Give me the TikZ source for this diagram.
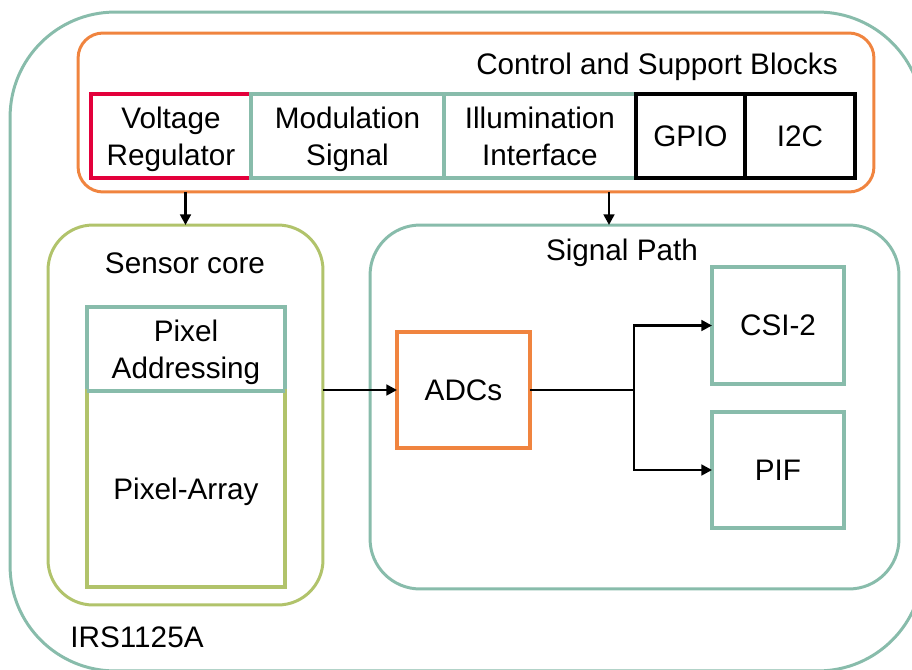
\documentclass[tikz,border=0pt]{standalone}
\usepackage{fontspec}
\setmainfont{Liberation Sans}
\usetikzlibrary{arrows.meta,positioning}
\definecolor{irsteal}{HTML}{88BCAB}
\definecolor{irsorange}{HTML}{F0843F}
\definecolor{irsgreen}{HTML}{B1C36B}
\definecolor{irsred}{HTML}{E3003B}
\newcommand{\blkfont}{\fontsize{16.9}{21}\selectfont}

\begin{document}
\begin{tikzpicture}[
    x=0.02cm, y=-0.02cm,
    every node/.style={font=\blkfont, text=black, align=center, text depth=0pt},
    frame/.style={draw=#1, line width=1.7pt, inner sep=0pt, outer sep=0pt},
    block/.style={draw=#1, line width=2pt, inner sep=0pt, outer sep=0pt,
                  minimum height=1.68cm},
    ttl/.style={inner sep=0pt},
    arr/.style={-{Triangle[length=6pt,width=6pt]}, black, line width=1.5pt},
  ]
  \useasboundingbox (0,0) rectangle (912,669);
  \clip (0,0) rectangle (912,669);

  % Chip outline
  \node[frame=irsteal, rounded corners=2.1cm, minimum width=18.26cm,
        minimum height=13.18cm] (chip) at (466.5,341.5) {};
  \node[ttl] (chipname) at (137,637) {IRS1125A};

  % Control and support blocks
  \node[frame=irsorange, rounded corners=0.5cm, minimum width=15.92cm,
        minimum height=3.18cm] (ctrl) at (476,112.5) {};
  \node[ttl] (ctrlname) at (657,64) {Control and Support Blocks};
  \node[block=irsred, minimum width=3.2cm] (vreg) at (171,136) {Voltage\\Regulator};
  \node[block=irsteal, minimum width=3.86cm, right=0pt of vreg] (mod) {Modulation\\Signal};
  \node[block=irsteal, minimum width=3.84cm, right=0pt of mod] (illum) {Illumination\\Interface};
  \node[block=black, minimum width=2.18cm, right=0pt of illum] (gpio) {GPIO};
  \node[block=black, minimum width=2.2cm, right=0pt of gpio] (itwoc) {I2C};

  % Sensor core
  \node[frame=irsgreen, rounded corners=0.9cm, minimum width=5.5cm,
        minimum height=7.6cm] (sensor) at (185.5,415) {};
  \node[ttl] (sensorname) at (185,263) {Sensor core};
  \node[block=irsteal, minimum width=3.96cm] (addr) at (186,349) {Pixel\\Addressing};
  \node[block=irsgreen, minimum width=3.96cm, minimum height=3.92cm,
        below=0pt of addr] (array) {Pixel-Array};
  \draw[irsteal, line width=2pt] (addr.south west) -- (addr.south east);

  % Signal path
  \node[frame=irsteal, rounded corners=1cm, minimum width=10.58cm,
        minimum height=7.28cm] (sigpath) at (634.5,407) {};
  \node[ttl] (sigpathname) at (622,250) {Signal Path};
  \node[block=irsorange, minimum width=2.66cm, minimum height=2.32cm] (adc) at (463.5,390) {ADCs};
  \node[block=irsteal, minimum width=2.64cm, minimum height=2.34cm] (csi) at (778,325.5) {CSI-2};
  \node[block=irsteal, minimum width=2.64cm, minimum height=2.32cm] (pif) at (778,470) {PIF};

  % Arrows
  \coordinate (sigin) at (609,225);
  \coordinate (fork) at (634,390);
  \draw[arr] (ctrl.south -| sensor.north) -- (sensor.north);
  \draw[arr] (ctrl.south -| sigin) -- (sigin);
  \draw[arr] (sensor.east |- adc.west) -- (adc.west);
  \draw[line width=1.5pt] (adc.east) -- (fork);
  \draw[arr] (fork) |- (csi.west);
  \draw[arr] (fork) |- (pif.west);
\end{tikzpicture}
\end{document}
